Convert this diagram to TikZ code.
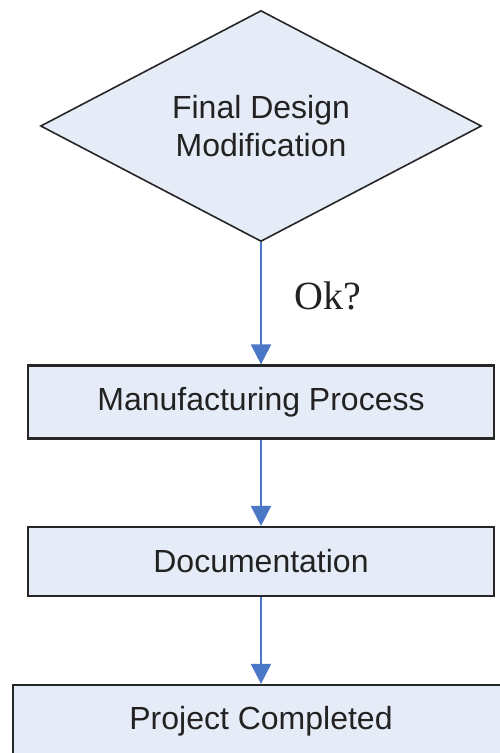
\documentclass[tikz,border=0pt]{standalone}
\usepackage{fontspec}
\setmainfont{Liberation Sans}
\newfontfamily\serifface{Liberation Serif}
\usetikzlibrary{shapes.geometric,arrows.meta}
\definecolor{boxfill}{HTML}{E6ECF7}
\definecolor{flowblue}{HTML}{4A78C6}
\definecolor{inktext}{HTML}{222222}
\tikzset{
  x=1pt, y=-1pt,
  stepbox/.style={draw=black!85, line width=2.2pt, fill=boxfill, rectangle,
    minimum width=466pt, inner sep=0pt, text=inktext,
    font=\fontsize{32}{38}\selectfont},
  decision/.style={draw=black!85, line width=1.6pt, fill=boxfill, diamond,
    minimum width=441pt, minimum height=231pt, aspect=1.91, inner sep=0pt,
    text=inktext, align=center, font=\fontsize{32}{38}\selectfont},
  flow/.style={draw=flowblue, line width=2.2pt,
    -{Triangle[length=20pt,width=20pt]}},
}
\begin{document}
\begin{tikzpicture}
\useasboundingbox (0,0) rectangle (500,753);
\begin{scope}
\clip (0,0) rectangle (500,753);
\node[decision] (design) at (261,126) {Final Design\\Modification};
\node[stepbox, minimum height=73pt] (mfg) at (261,402) {Manufacturing Process};
\node[stepbox, minimum height=69pt] (doc) at (261,561.5) {Documentation};
\node[stepbox, minimum height=73pt, minimum width=496pt] (done) at (261,721.5) {Project Completed};
\draw[flow] (design.south) -- (mfg.north);
\draw[flow] (mfg.south) -- (doc.north);
\draw[flow] (doc.south) -- (done.north);
\node[text=inktext, font=\serifface\fontsize{40}{44}\selectfont] (ok) at (328,296) {Ok?};
\end{scope}
\end{tikzpicture}
\end{document}
